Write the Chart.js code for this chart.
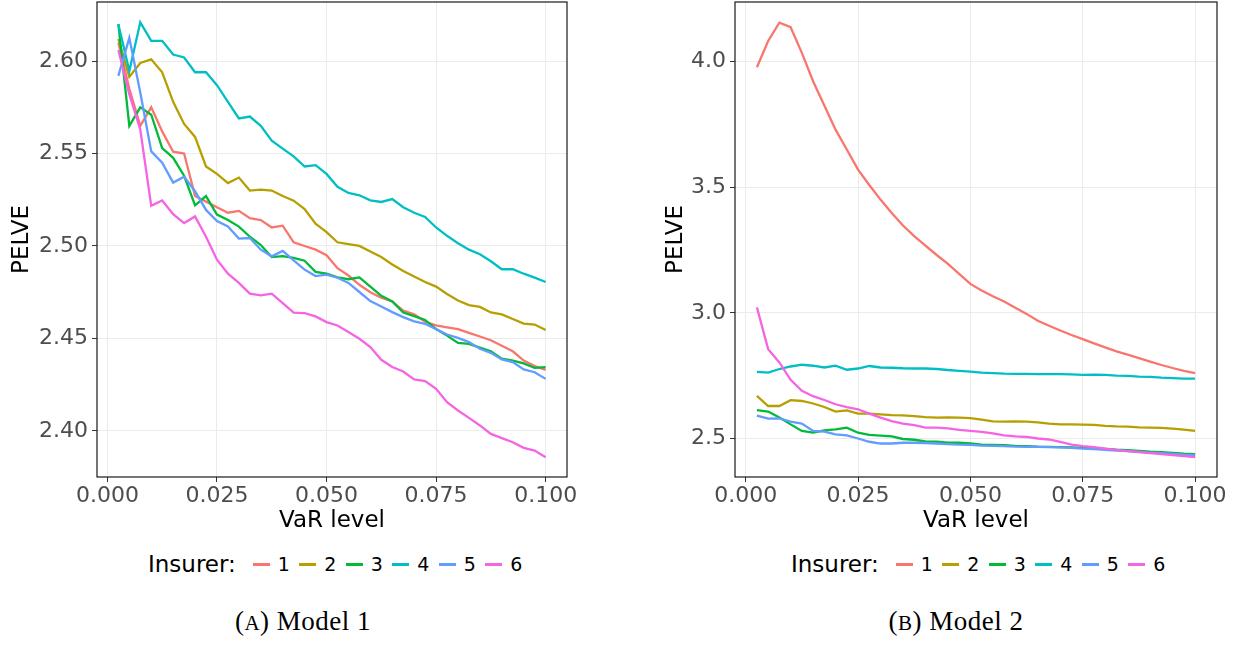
<!DOCTYPE html>
<html lang="en">
  <head>
    <meta charset="UTF-8" />
    <title>PELVE by VaR level - Model 1 and Model 2</title>
    <script src="https://cdn.jsdelivr.net/npm/chart.js"></script>
    <style>
      body { margin: 0; background: #fff; width: 1250px; height: 646px; position: relative; overflow: hidden; }
      canvas { position: absolute; top: 0; }
      #chartA { left: 0; }
      #chartB { left: 650px; }
      .legend {
        position: absolute;
        top: 549px;
        height: 30px;
        display: flex;
        align-items: center;
        font-family: 'DejaVu Sans', sans-serif;
        color: #000;
      }
      .legend .ltitle { font-size: 23px; margin-right: 17px; }
      .legend .swatch { width: 17px; height: 3px; margin-right: 8px; }
      .legend .lab { font-size: 19px; width: 11.5px; margin-right: 10px; }
      .caption {
        position: absolute;
        top: 606px;
        width: 300px;
        text-align: center;
        font-family: 'Liberation Serif', 'DejaVu Serif', serif;
        font-size: 27px;
        letter-spacing: 0.5px;
        color: #000;
      }
      .caption .sc { font-size: 0.78em; }
    </style>
  </head>
  <body>
    <canvas id="chartA" width="600" height="535"></canvas>
    <canvas id="chartB" width="600" height="535"></canvas>

    <div class="legend" id="legendA" style="left:148px"></div>
    <div class="legend" id="legendB" style="left:791px"></div>

    <div class="caption" style="left:153px">(<span class="sc">A</span>) Model 1</div>
    <div class="caption" style="left:806px">(<span class="sc">B</span>) Model 2</div>

    <script>
      // VaR levels (x values)
      const varLevels = [0.0025, 0.005, 0.0075, 0.01, 0.0125, 0.015, 0.0175, 0.02, 0.0225, 0.025,
        0.0275, 0.03, 0.0325, 0.035, 0.0375, 0.04, 0.0425, 0.045, 0.0475, 0.05,
        0.0525, 0.055, 0.0575, 0.06, 0.0625, 0.065, 0.0675, 0.07, 0.0725, 0.075,
        0.0775, 0.08, 0.0825, 0.085, 0.0875, 0.09, 0.0925, 0.095, 0.0975, 0.1];

      const insurers = ['1', '2', '3', '4', '5', '6'];
      const insurerColors = ['#F8766D', '#B79F00', '#00BA38', '#00BFC4', '#619CFF', '#F564E3'];

      const xTicks = [0, 0.025, 0.05, 0.075, 0.1];
      const yTicksModel1 = [2.40, 2.45, 2.50, 2.55, 2.60];
      const yTicksModel2 = [2.5, 3.0, 3.5, 4.0];

      // Model 1 PELVE per insurer
      const model1Insurer1 = [2.610, 2.585, 2.565, 2.575, 2.562, 2.551, 2.550, 2.527, 2.524, 2.521,
        2.518, 2.519, 2.515, 2.514, 2.510, 2.511, 2.502, 2.500, 2.498, 2.495,
        2.488, 2.484, 2.479, 2.475, 2.472, 2.470, 2.465, 2.463, 2.459, 2.457,
        2.456, 2.455, 2.453, 2.451, 2.449, 2.446, 2.443, 2.438, 2.435, 2.433];
      const model1Insurer2 = [2.612, 2.5915, 2.599, 2.601, 2.594, 2.578, 2.566, 2.559, 2.543, 2.539,
        2.534, 2.537, 2.530, 2.5305, 2.530, 2.527, 2.5245, 2.520, 2.512, 2.5075,
        2.502, 2.501, 2.500, 2.497, 2.494, 2.490, 2.4865, 2.4835, 2.4805, 2.478,
        2.474, 2.4705, 2.468, 2.467, 2.464, 2.463, 2.4605, 2.458, 2.4575, 2.4545];
      const model1Insurer3 = [2.620, 2.565, 2.575, 2.571, 2.553, 2.5477, 2.538, 2.522, 2.527, 2.517,
        2.514, 2.5105, 2.505, 2.5005, 2.494, 2.4945, 2.4935, 2.492, 2.486, 2.485,
        2.483, 2.482, 2.483, 2.478, 2.473, 2.470, 2.464, 2.462, 2.460, 2.455,
        2.4515, 2.4475, 2.447, 2.445, 2.443, 2.439, 2.438, 2.4365, 2.434, 2.4345];
      const model1Insurer4 = [2.620, 2.5946, 2.621, 2.611, 2.611, 2.6036, 2.602, 2.594, 2.594, 2.587,
        2.578, 2.569, 2.570, 2.565, 2.557, 2.5527, 2.5485, 2.543, 2.5437, 2.539,
        2.532, 2.5287, 2.5274, 2.5247, 2.5238, 2.5254, 2.521, 2.518, 2.5157, 2.510,
        2.5055, 2.5015, 2.498, 2.4955, 2.4917, 2.4874, 2.4874, 2.485, 2.4829, 2.4805];
      const model1Insurer5 = [2.592, 2.6126, 2.583, 2.5512, 2.545, 2.5343, 2.5375, 2.5296, 2.5195, 2.5135,
        2.5106, 2.504, 2.5043, 2.498, 2.4944, 2.4973, 2.4922, 2.4872, 2.4837, 2.4845,
        2.4828, 2.480, 2.4751, 2.4702, 2.4673, 2.4642, 2.4615, 2.4592, 2.4579, 2.455,
        2.4521, 2.4503, 2.448, 2.4444, 2.4422, 2.4386, 2.4372, 2.4332, 2.4317, 2.4281];
      const model1Insurer6 = [2.606, 2.582, 2.563, 2.5217, 2.5246, 2.5172, 2.5124, 2.516, 2.505, 2.4926,
        2.485, 2.480, 2.4742, 2.4733, 2.4742, 2.4691, 2.4639, 2.4637, 2.4619, 2.4588,
        2.457, 2.4534, 2.4498, 2.4453, 2.4384, 2.4345, 2.4321, 2.4278, 2.4269, 2.4227,
        2.4155, 2.411, 2.407, 2.4029, 2.3983, 2.396, 2.3938, 2.3908, 2.3893, 2.3857];

      // Model 2 PELVE per insurer
      const model2Insurer1 = [3.976, 4.080, 4.153, 4.135, 4.033, 3.920, 3.824, 3.728, 3.649, 3.569,
        3.508, 3.450, 3.397, 3.347, 3.305, 3.267, 3.230, 3.195, 3.155, 3.115,
        3.089, 3.066, 3.045, 3.020, 2.996, 2.969, 2.949, 2.930, 2.912, 2.896,
        2.879, 2.863, 2.847, 2.834, 2.820, 2.806, 2.793, 2.781, 2.770, 2.761];
      const model2Insurer2 = [2.670, 2.630, 2.630, 2.653, 2.650, 2.640, 2.626, 2.608, 2.613, 2.600,
        2.600, 2.597, 2.594, 2.593, 2.590, 2.586, 2.584, 2.585, 2.584, 2.582,
        2.576, 2.569, 2.568, 2.569, 2.568, 2.565, 2.560, 2.557, 2.557, 2.556,
        2.555, 2.551, 2.549, 2.548, 2.545, 2.544, 2.543, 2.540, 2.536, 2.531];
      const model2Insurer3 = [2.614, 2.608, 2.584, 2.557, 2.531, 2.524, 2.533, 2.537, 2.544, 2.524,
        2.515, 2.512, 2.509, 2.499, 2.496, 2.489, 2.488, 2.484, 2.484, 2.481,
        2.477, 2.476, 2.475, 2.472, 2.471, 2.469, 2.468, 2.467, 2.466, 2.464,
        2.461, 2.460, 2.457, 2.455, 2.452, 2.449, 2.447, 2.444, 2.441, 2.439];
      const model2Insurer4 = [2.766, 2.763, 2.777, 2.787, 2.794, 2.790, 2.783, 2.790, 2.774, 2.779,
        2.789, 2.783, 2.782, 2.780, 2.779, 2.779, 2.777, 2.773, 2.770, 2.767,
        2.763, 2.761, 2.759, 2.758, 2.758, 2.757, 2.757, 2.757, 2.756, 2.754,
        2.755, 2.754, 2.751, 2.750, 2.747, 2.746, 2.743, 2.741, 2.739, 2.739];
      const model2Insurer5 = [2.592, 2.580, 2.581, 2.568, 2.560, 2.531, 2.528, 2.517, 2.513, 2.501,
        2.488, 2.481, 2.481, 2.484, 2.484, 2.483, 2.481, 2.479, 2.477, 2.476,
        2.473, 2.472, 2.471, 2.469, 2.468, 2.468, 2.467, 2.466, 2.464, 2.461,
        2.459, 2.456, 2.453, 2.451, 2.448, 2.445, 2.443, 2.440, 2.437, 2.435];
      const model2Insurer6 = [3.022, 2.856, 2.803, 2.734, 2.690, 2.669, 2.654, 2.637, 2.626, 2.617,
        2.600, 2.584, 2.570, 2.560, 2.554, 2.544, 2.544, 2.541, 2.535, 2.531,
        2.527, 2.521, 2.513, 2.509, 2.507, 2.501, 2.497, 2.488, 2.477, 2.471,
        2.467, 2.461, 2.456, 2.451, 2.447, 2.443, 2.439, 2.435, 2.431, 2.427];

      const model1Series = [model1Insurer1, model1Insurer2, model1Insurer3, model1Insurer4, model1Insurer5, model1Insurer6];
      const model2Series = [model2Insurer1, model2Insurer2, model2Insurer3, model2Insurer4, model2Insurer5, model2Insurer6];

      Chart.defaults.font.family = "'DejaVu Sans', sans-serif";

      // black box around the panel, like ggplot's theme_bw
      const panelBorder = {
        id: 'panelBorder',
        afterDraw(chart) {
          const { ctx, chartArea: a } = chart;
          ctx.save();
          ctx.strokeStyle = '#1a1a1a';
          ctx.lineWidth = 1.2;
          ctx.strokeRect(a.left, a.top, a.right - a.left, a.bottom - a.top);
          ctx.restore();
        }
      };

      function makePanel(canvasId, series, yMin, yMax, yTicks, yDecimals, yAxisWidth, yTitlePad) {
        const datasets = series.map((values, i) => ({
          label: insurers[i],
          data: varLevels.map((x, j) => ({ x: x, y: values[j] })),
          borderColor: insurerColors[i],
          backgroundColor: insurerColors[i],
          borderWidth: 2.3,
          pointRadius: 0,
          tension: 0,
          order: series.length - i
        }));

        new Chart(document.getElementById(canvasId), {
          type: 'line',
          data: { datasets: datasets },
          options: {
            responsive: false,
            animation: false,
            devicePixelRatio: 1,
            layout: { padding: { top: 2, right: 33, left: 0, bottom: 0 } },
            plugins: { legend: { display: false }, tooltip: { enabled: false } },
            scales: {
              x: {
                type: 'linear',
                min: -0.002375,
                max: 0.104875,
                afterBuildTicks: s => { s.ticks = xTicks.map(v => ({ value: v })); },
                afterFit: s => { s.height = 58; },
                grid: { color: '#ebebeb', lineWidth: 1, tickLength: 5, tickColor: '#333', drawTicks: true },
                border: { display: false },
                ticks: {
                  color: '#4d4d4d',
                  font: { size: 22 },
                  padding: 1,
                  maxRotation: 0,
                  autoSkip: false,
                  callback: v => Number(v).toFixed(3)
                },
                title: {
                  display: true,
                  text: 'VaR level',
                  color: '#000',
                  font: { size: 23 },
                  padding: { top: 0, bottom: 0 }
                }
              },
              y: {
                type: 'linear',
                min: yMin,
                max: yMax,
                afterBuildTicks: s => { s.ticks = yTicks.map(v => ({ value: v })); },
                afterFit: s => {
                  s.width = yAxisWidth;
                  s.paddingTop = 0;
                  s.paddingBottom = 0;
                },
                grid: { color: '#ebebeb', lineWidth: 1, tickLength: 5, tickColor: '#333', drawTicks: true },
                border: { display: false },
                ticks: {
                  color: '#4d4d4d',
                  font: { size: 22 },
                  padding: 4,
                  autoSkip: false,
                  callback: v => Number(v).toFixed(yDecimals)
                },
                title: {
                  display: true,
                  text: 'PELVE',
                  color: '#000',
                  font: { size: 23 },
                  padding: { top: yTitlePad, bottom: 0 }
                }
              }
            }
          },
          plugins: [panelBorder]
        });
      }

      function buildLegend(id) {
        const box = document.getElementById(id);
        let html = '<span class="ltitle">Insurer:</span>';
        insurers.forEach((name, i) => {
          html += '<span class="swatch" style="background:' + insurerColors[i] + '"></span>' +
                  '<span class="lab">' + name + '</span>';
        });
        box.innerHTML = html;
      }

      makePanel('chartA', model1Series, 2.375, 2.632, yTicksModel1, 2, 97, 8);
      makePanel('chartB', model2Series, 2.348, 4.235, yTicksModel2, 1, 85, 12);
      buildLegend('legendA');
      buildLegend('legendB');
    </script>
  </body>
</html>
